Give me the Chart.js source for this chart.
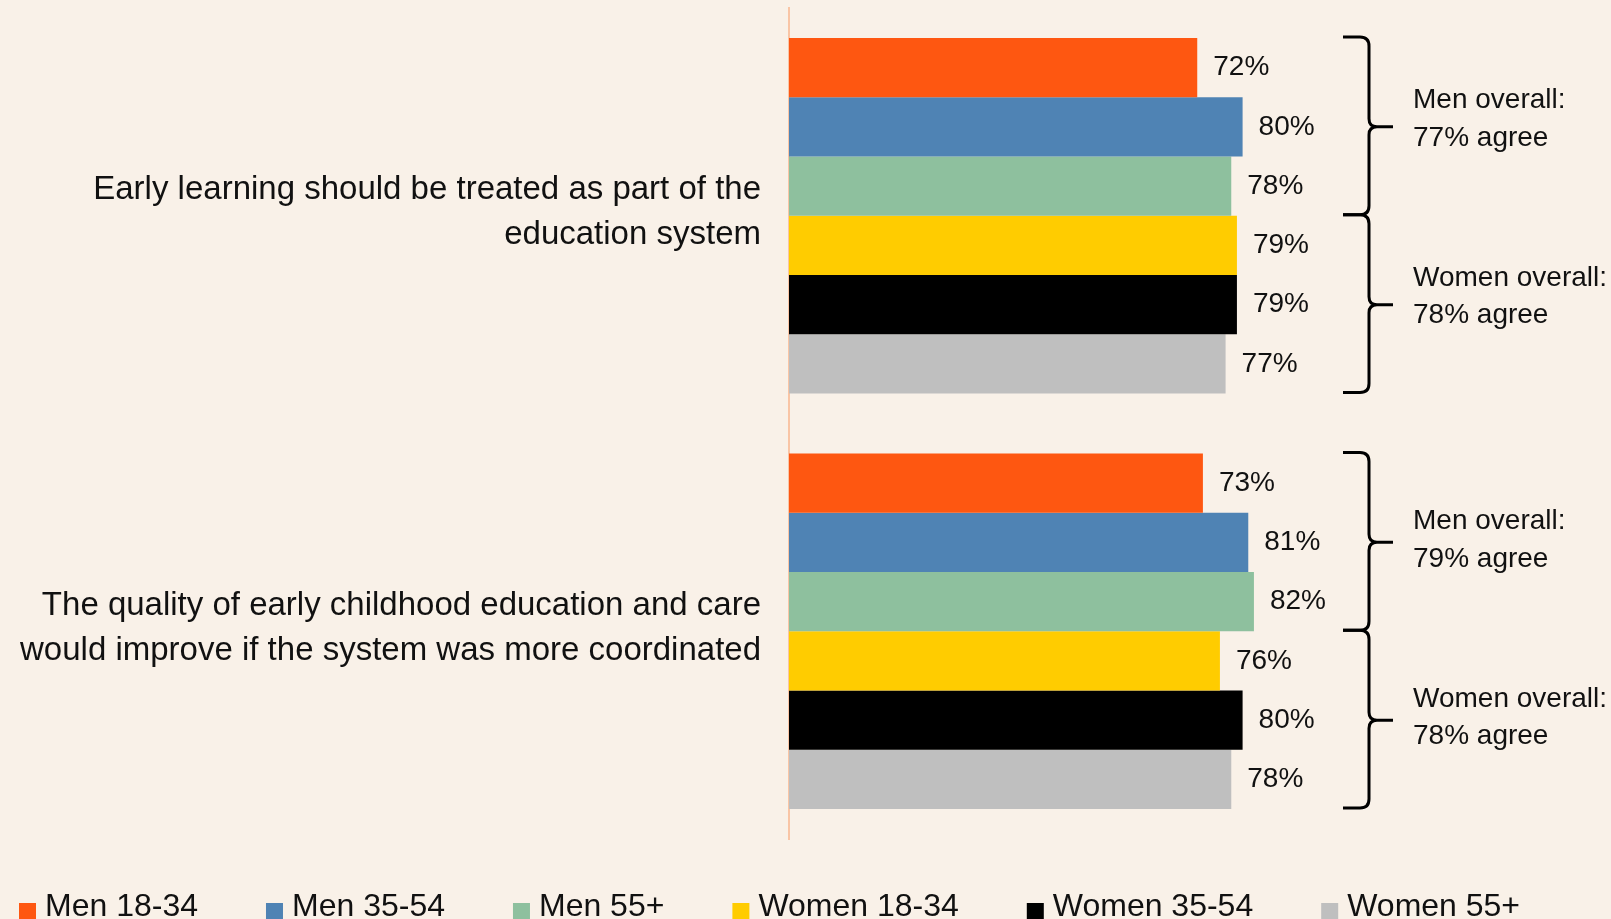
<!DOCTYPE html>
<html>
<head>
<meta charset="utf-8">
<script src="https://cdn.jsdelivr.net/npm/chart.js@4.4.1/dist/chart.umd.min.js"></script>
<style>
  html, body { margin: 0; padding: 0; background: #F9F1E8; overflow: hidden; }
  #wrap { width: 1611px; height: 919px; background: #F9F1E8; }
  canvas { display: block; }
</style>
</head>
<body>
<div id="wrap"><canvas id="c" width="1611" height="919"></canvas></div>
<script>
// ---- Data ----
const categories = [
  ["Early learning should be treated as part of the", "education system"],
  ["The quality of early childhood education and care", "would improve if the system was more coordinated"]
];
const seriesNames = ["Men 18-34", "Men 35-54", "Men 55+", "Women 18-34", "Women 35-54", "Women 55+"];
const men1834   = [72, 73];
const men3554   = [80, 81];
const men55     = [78, 82];
const women1834 = [79, 76];
const women3554 = [79, 80];
const women55   = [77, 78];
const menOverall   = [77, 79];
const womenOverall = [78, 78];
const seriesColors = ["#FE5711", "#4F83B4", "#8EC09E", "#FFCC00", "#000000", "#BFBFBF"];

const FONT = '"Liberation Sans", Arial, Helvetica, sans-serif';
const TEXT = '#111111';

const seriesValues = [men1834, men3554, men55, women1834, women3554, women55];

// ---- Plugins ----
const valueLabels = {
  id: 'valueLabels',
  afterDatasetsDraw(chart) {
    const ctx = chart.ctx;
    ctx.save();
    ctx.font = '28px ' + FONT;
    ctx.fillStyle = TEXT;
    ctx.textAlign = 'left';
    ctx.textBaseline = 'middle';
    chart.data.datasets.forEach((ds, di) => {
      const meta = chart.getDatasetMeta(di);
      meta.data.forEach((bar, i) => {
        ctx.fillText(ds.data[i] + '%', bar.x + 16, bar.y);
      });
    });
    ctx.restore();
  }
};

const brackets = {
  id: 'brackets',
  afterDraw(chart) {
    const ctx = chart.ctx;
    const groups = [
      { from: 0, to: 2, label: 'Men overall:', vals: menOverall },
      { from: 3, to: 5, label: 'Women overall:', vals: womenOverall }
    ];
    const textShift = [-2, 3.5];
    const xl = 1343, xv = 1369, xt = 1393, xText = 1413, r = 9, rt = 8;
    ctx.save();
    ctx.strokeStyle = '#000';
    ctx.lineWidth = 3;
    ctx.lineJoin = 'round';
    chart.data.labels.forEach((_, i) => {
      groups.forEach(g => {
        const b0 = chart.getDatasetMeta(g.from).data[i];
        const b1 = chart.getDatasetMeta(g.to).data[i];
        const top = b0.y - b0.height / 2 - 1;
        const bot = b1.y + b1.height / 2 - 1;
        const mid = (top + bot) / 2 + 1;
        ctx.beginPath();
        ctx.moveTo(xl, top);
        ctx.lineTo(xv - r, top);
        ctx.quadraticCurveTo(xv, top, xv, top + r);
        ctx.lineTo(xv, mid - rt);
        ctx.quadraticCurveTo(xv, mid, xv + rt, mid);
        ctx.lineTo(xt, mid);
        ctx.moveTo(xv + rt, mid);
        ctx.quadraticCurveTo(xv, mid, xv, mid + rt);
        ctx.lineTo(xv, bot - r);
        ctx.quadraticCurveTo(xv, bot, xv - r, bot);
        ctx.lineTo(xl, bot);
        ctx.stroke();

        ctx.fillStyle = TEXT;
        ctx.font = '28px ' + FONT;
        ctx.textAlign = 'left';
        ctx.textBaseline = 'alphabetic';
        const ty = mid + textShift[i];
        ctx.fillText(g.label, xText, ty - 16.5);
        ctx.fillText(g.vals[i] + '% agree', xText, ty + 20.8);
      });
    });
    ctx.restore();
  }
};

const legendRow = {
  id: 'legendRow',
  afterDraw(chart) {
    const ctx = chart.ctx;
    ctx.save();
    ctx.font = '32px ' + FONT;
    ctx.textAlign = 'left';
    ctx.textBaseline = 'alphabetic';
    let x = 19;
    chart.data.datasets.forEach(ds => {
      ctx.fillStyle = ds.backgroundColor;
      ctx.fillRect(x, 903, 17, 17);
      ctx.fillStyle = TEXT;
      ctx.fillText(ds.label, x + 26, 916);
      x += 26 + ctx.measureText(ds.label).width + 68;
    });
    ctx.restore();
  }
};

// ---- Chart ----
new Chart(document.getElementById('c'), {
  type: 'bar',
  data: {
    labels: categories,
    datasets: seriesNames.map((name, k) => ({
      label: name,
      data: seriesValues[k],
      backgroundColor: seriesColors[k],
      borderWidth: 0,
      categoryPercentage: 0.856,
      barPercentage: 1.0
    }))
  },
  options: {
    indexAxis: 'y',
    responsive: false,
    devicePixelRatio: 1,
    animation: false,
    layout: { padding: { top: 8, right: 255, bottom: 80, left: 0 } },
    plugins: {
      legend: { display: false },
      tooltip: { enabled: false },
      title: { display: false }
    },
    scales: {
      x: { display: false, min: 0, max: 100 },
      y: {
        grid: { display: true, color: 'rgba(0,0,0,0)', drawTicks: false },
        border: { display: true, color: '#F9C5A5', width: 2 },
        ticks: {
          color: TEXT,
          font: { family: FONT, size: 33, lineHeight: 1.364 },
          padding: 28,
          labelOffset: -3
        },
        afterFit(scale) {
          scale.width = 789;
          scale.paddingTop = 0;
          scale.paddingBottom = 0;
        }
      }
    }
  },
  plugins: [valueLabels, brackets, legendRow]
});
</script>
</body>
</html>
